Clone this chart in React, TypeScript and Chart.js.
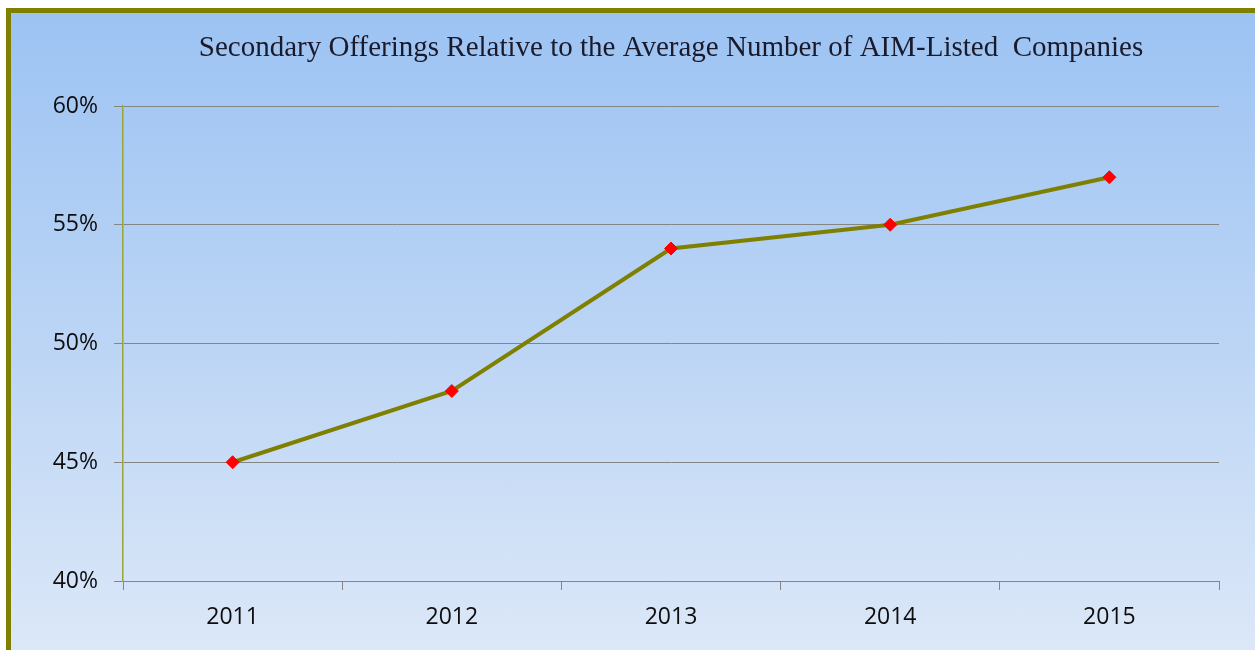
import React, { useEffect, useRef } from "react";
import { Chart, registerables } from "chart.js";

Chart.register(...registerables);

const titleText = "Secondary Offerings Relative to the Average Number of AIM-Listed  Companies";
const years = ["2011", "2012", "2013", "2014", "2015"];
const shareValues = [45, 48, 54, 55, 57];
const yMin = 40;
const yMax = 60;
const yStep = 5;

const centeredTitle = {
  id: "centeredTitle",
  afterDraw(chart: any) {
    const { ctx, chartArea } = chart;
    ctx.save();
    ctx.font = "29px 'Liberation Serif', 'Times New Roman', serif";
    ctx.fillStyle = "#1a1a2a";
    ctx.textAlign = "center";
    ctx.textBaseline = "middle";
    ctx.fillText(titleText, (chartArea.left + chartArea.right) / 2, 48);
    ctx.restore();
  },
};

export default function App() {
  const ref = useRef<HTMLCanvasElement | null>(null);

  useEffect(() => {
    if (!ref.current) return;
    const chart = new Chart(ref.current, {
      type: "line",
      data: {
        labels: years,
        datasets: [
          {
            label: "Secondary offerings",
            data: shareValues,
            borderColor: "#808000",
            borderWidth: 4,
            pointStyle: "rectRot",
            pointRadius: 6.5,
            pointBackgroundColor: "#ff0000",
            pointBorderColor: "#ff0000",
            pointBorderWidth: 1,
            tension: 0,
          },
        ],
      },
      options: {
        animation: false,
        responsive: false,
        devicePixelRatio: 1,
        layout: { padding: { left: 0, right: 36, top: 106, bottom: 0 } },
        plugins: {
          legend: { display: false },
          tooltip: { enabled: false },
          title: { display: false },
        },
        scales: {
          x: {
            offset: true,
            grid: {
              offset: true,
              drawOnChartArea: false,
              drawTicks: true,
              tickLength: 9,
              color: "#858585",
            },
            border: { color: "#858585", width: 1 },
            ticks: {
              color: "#0d0d0d",
              padding: 14,
              font: { family: "'Open Sans', sans-serif", size: 23 },
            },
            afterFit: (scale: any) => {
              scale.height = 69;
            },
          },
          y: {
            min: yMin,
            max: yMax,
            grid: {
              color: "#858585",
              lineWidth: 1,
              drawTicks: true,
              tickLength: 9,
            },
            border: { color: "#9aa43a", width: 1.5 },
            ticks: {
              stepSize: yStep,
              color: "#0d0d0d",
              padding: 16,
              font: { family: "'Open Sans', sans-serif", size: 23 },
              callback: (v: any) => `${v}%`,
            },
            afterFit: (scale: any) => {
              scale.width = 123;
            },
          },
        },
      },
      plugins: [centeredTitle],
    });
    return () => chart.destroy();
  }, []);

  return (
    <div style={{ position: "fixed", left: 0, top: 0, width: 1255, height: 650, overflow: "hidden", background: "#ffffff" }}>
      <div
        style={{
          position: "absolute",
          left: 6,
          top: 8,
          width: 1270,
          height: 660,
          borderTop: "5px solid #808000",
          borderLeft: "5px solid #808000",
          background: "linear-gradient(to bottom, #9cc3f3 0%, #bcd5f5 50%, #dee9f8 100%)",
        }}
      />
      <canvas ref={ref} width={1255} height={650} style={{ position: "absolute", left: 0, top: 0 }} />
    </div>
  );
}
